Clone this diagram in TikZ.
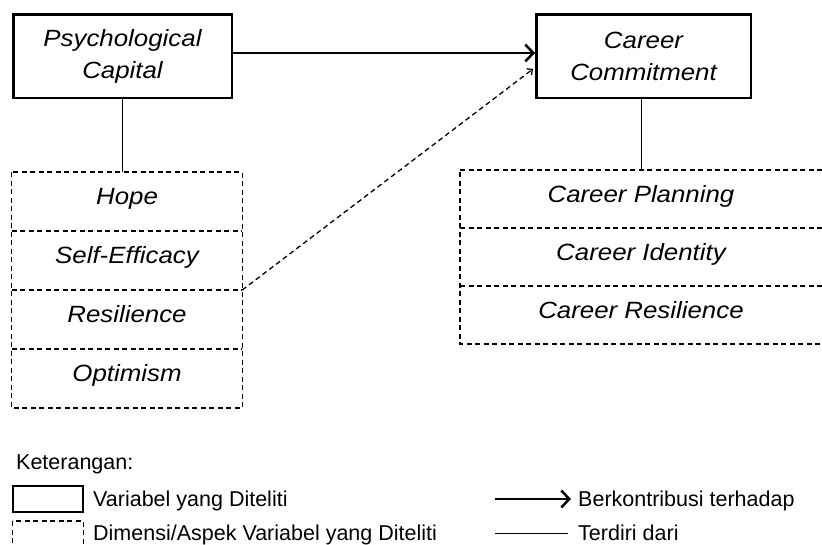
\documentclass[tikz,border=0pt]{standalone}
\usepackage{fontspec}
\setmainfont{Liberation Sans}
\newfontfamily\boxfont[FakeStretch=1.1]{Liberation Sans}
\usetikzlibrary{positioning,arrows.meta}
\tikzset{
  varBox/.style={rectangle, draw, line width=2.5pt, inner sep=0pt, align=center, font=\boxfont\itshape\fontsize{23.5}{32}\selectfont},
  dimBox/.style={rectangle, inner sep=0pt, outer sep=0pt, text height=17pt, text depth=11pt, font=\boxfont\itshape\fontsize{23.5}{28}\selectfont},
  dimLine/.style={dash pattern=on 5pt off 3.5pt, line width=1.3pt},
  consistOf/.style={line width=1pt},
  contribute/.style={line width=2.5pt, -{Straight Barb[length=8pt,width=17pt]}},
  dimContribute/.style={dimLine, -{Straight Barb[length=4pt,width=8pt]}},
  legendText/.style={inner sep=0pt, anchor=base west, font=\fontsize{21.5}{26}\selectfont}
}
\begin{document}
\begin{tikzpicture}[x=1pt, y=-1pt]
  \useasboundingbox (0,0) rectangle (822,544);

  % variables
  \node[varBox, minimum width=218.5pt, minimum height=83.5pt] (psycap) at (122.5,56) {Psychological\\Capital};
  \node[varBox, minimum width=214.5pt, minimum height=83.5pt] (commit) at (643.5,56) {Career\\Commitment};

  % dimensions of psychological capital
  \node[dimBox, minimum width=230.5pt, minimum height=59pt] (hope) at (127,201.5) {Hope};
  \node[dimBox, minimum width=230.5pt, minimum height=59pt, below=0pt of hope] (efficacy) {Self-Efficacy};
  \node[dimBox, minimum width=230.5pt, minimum height=59pt, below=0pt of efficacy] (resilience) {Resilience};
  \node[dimBox, minimum width=230.5pt, minimum height=59pt, below=0pt of resilience] (optimism) {Optimism};
  \draw[dimLine] (hope.north west) rectangle (optimism.south east);
  \draw[dimLine] (efficacy.north west) -- (efficacy.north east);
  \draw[dimLine] (resilience.north west) -- (resilience.north east);
  \draw[dimLine] (optimism.north west) -- (optimism.north east);

  % dimensions of career commitment
  \node[dimBox, minimum width=362pt, minimum height=58pt] (planning) at (641,199) {Career Planning};
  \node[dimBox, minimum width=362pt, minimum height=58pt, below=0pt of planning] (identity) {Career Identity};
  \node[dimBox, minimum width=362pt, minimum height=58pt, below=0pt of identity] (careerRes) {Career Resilience};
  \draw[dimLine] (planning.north west) -- ([xshift=3pt]planning.north east) -- ([xshift=3pt]careerRes.south east) -- (careerRes.south west) -- cycle;
  \draw[dimLine] (identity.north west) -- ([xshift=3pt]identity.north east);
  \draw[dimLine] (careerRes.north west) -- ([xshift=3pt]careerRes.north east);

  % connectors
  \draw[consistOf] (psycap.south) -- (psycap.south |- hope.north);
  \draw[consistOf] (commit.south -| planning.north) -- (planning.north);
  \draw[contribute] ([yshift=3pt]psycap.east) -- ([yshift=3pt]commit.west);
  \draw[dimContribute] (resilience.north east) -- ([xshift=-2pt,yshift=-13pt]commit.west);

  % legend
  \node[legendText] (keterangan) at (16,469) {Keterangan:};
  \node[varBox, minimum width=70pt, minimum height=26pt] (varKey) at (48,499) {};
  \node[legendText] (varText) at (93,506) {Variabel yang Diteliti};
  \coordinate (dimKeyA) at (12.5,521);
  \coordinate (dimKeyB) at (83.5,552);
  \draw[dimLine] (dimKeyA) rectangle (dimKeyB);
  \node[legendText] (dimText) at (93,540) {Dimensi/Aspek Variabel yang Diteliti};
  \coordinate (contribKey) at (495,499);
  \node[legendText] (contribText) at (578,506) {Berkontribusi terhadap};
  \draw[contribute] (contribKey) -- ([xshift=-7pt]contribText.west |- contribKey);
  \coordinate (consistKey) at (495,533);
  \node[legendText] (consistText) at (578,540) {Terdiri dari};
  \draw[consistOf] (consistKey) -- ([xshift=-10pt]consistText.west |- consistKey);
\end{tikzpicture}
\end{document}
